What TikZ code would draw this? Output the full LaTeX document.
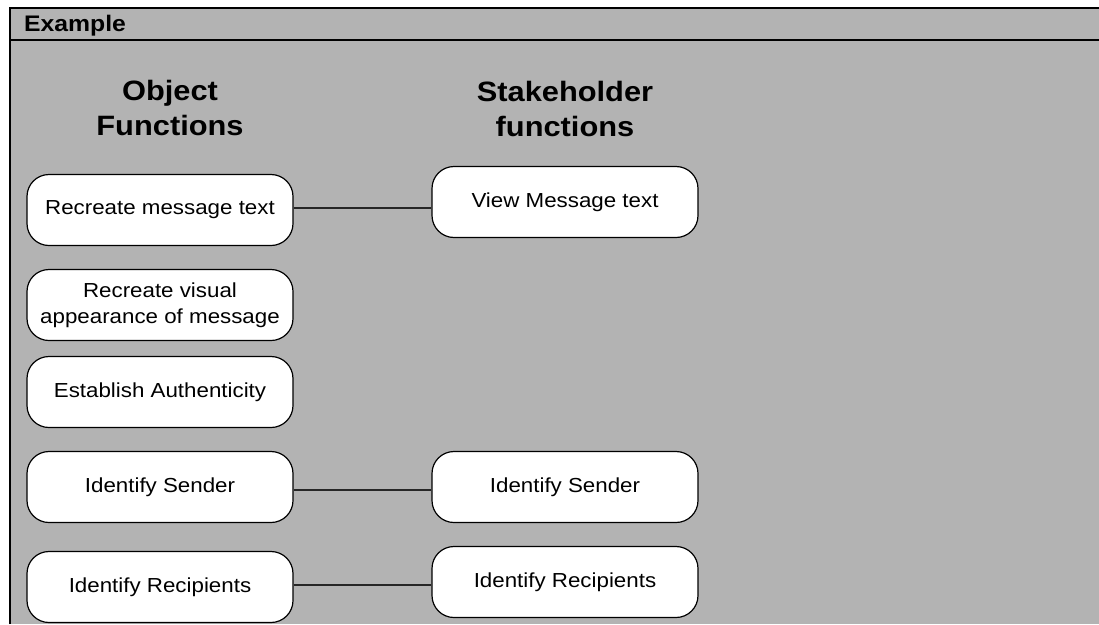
\documentclass[tikz,border=0pt]{standalone}
\usepackage{fontspec}
\setmainfont{Liberation Sans}[FakeStretch=1.1]
\begin{document}
\begin{tikzpicture}[x=1pt,y=-1pt,
  fnbox/.style={draw=black,line width=1.2pt,fill=white,rounded corners=22pt,
    minimum width=266pt,minimum height=71pt,align=center,inner sep=2pt,
    font=\fontsize{20.3}{26}\selectfont},
  heading/.style={anchor=base,font=\bfseries\fontsize{28}{35}\selectfont},
  link/.style={draw=black!85,line width=1.3pt},
  frameline/.style={draw=black,line width=2pt}]
\useasboundingbox (0,0) rectangle (1099,624);
\fill[white] (0,0) rectangle (1099,624);
\fill[fill={rgb,255:red,179;green,179;blue,179}] (9.5,7.5) rectangle (1099,624);
\draw[frameline] (9.5,624) -- (9.5,7.5) -- (1099,7.5);
\draw[frameline] (9.5,39.5) -- (1099,39.5);
\node[anchor=base west,font=\bfseries\fontsize{22.5}{26}\selectfont,inner sep=0pt] (title) at (24,31) {Example};
% headings
\node[heading] (h1a) at (170,100) {Object};
\node[heading] (h1b) at (170,135) {Functions};
\node[heading] (h2a) at (565,101) {Stakeholder};
\node[heading] (h2b) at (565,136) {functions};
% object functions
\node[fnbox] (o1) at (160,210) {Recreate message text};
\node[fnbox] (o2) at (160,305) {Recreate visual\\appearance of message};
\node[fnbox] (o3) at (160,392) {Establish Authenticity};
\node[fnbox] (o4) at (160,487) {Identify Sender};
\node[fnbox] (o5) at (160,587) {Identify Recipients};
% stakeholder functions
\node[fnbox] (s1) at (565,202) {View Message text};
\node[fnbox] (s4) at (565,487) {Identify Sender};
\node[fnbox] (s5) at (565,582) {Identify Recipients};
% connectors
\draw[link] ([yshift=2pt]o1.east) -- ([yshift=2pt]o1.east -| s1.west);
\draw[link] ([yshift=-3pt]o4.east) -- ([yshift=-3pt]o4.east -| s4.west);
\draw[link] ([yshift=2pt]o5.east) -- ([yshift=2pt]o5.east -| s5.west);
\end{tikzpicture}
\end{document}
